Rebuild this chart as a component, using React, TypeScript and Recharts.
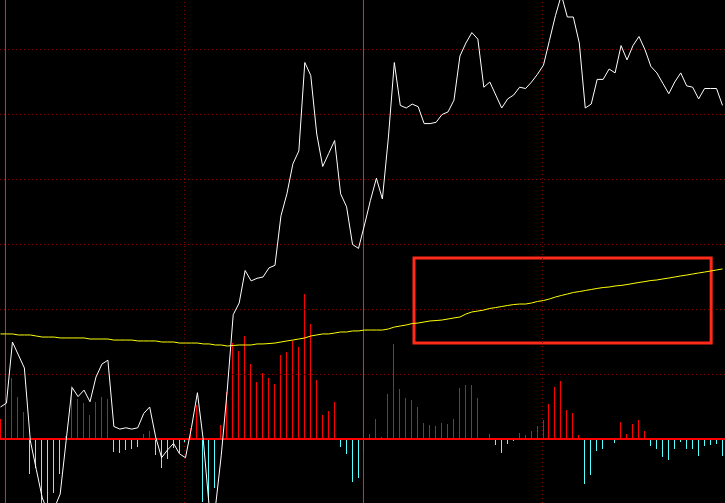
import {
    ComposedChart,
    XAxis,
    YAxis,
    Line,
    Bar,
    ReferenceLine,
    ReferenceArea,
} from "recharts";

// minute price (white line)
const price = [
    20.25, 20.28, 20.75, 20.65, 20.55, 19.99, 19.77, 19.55, 19.44, 19.47,
    19.58, 19.99, 20.4, 20.33, 20.38, 20.29, 20.48, 20.58, 20.61, 20.1,
    20.08, 20.09, 20.08, 20.09, 20.2, 20.25, 20.02, 19.86, 19.92, 19.97,
    19.89, 19.86, 20.09, 20.36, 19.99, 19.47, 19.47, 19.88, 20.38, 20.96,
    21.05, 21.3, 21.22, 21.24, 21.25, 21.32, 21.34, 21.72, 21.89, 22.12,
    22.22, 22.9, 22.8, 22.35, 22.1, 22.2, 22.3, 21.89, 21.79, 21.5,
    21.47, 21.65, 21.84, 22.01, 21.85, 22.32, 22.9, 22.57, 22.55, 22.58,
    22.56, 22.43, 22.43, 22.44, 22.5, 22.52, 22.61, 22.95, 23.05, 23.13,
    23.08, 22.71, 22.75, 22.65, 22.55, 22.62, 22.65, 22.71, 22.7, 22.75,
    22.81, 22.88, 23.07, 23.26, 23.42, 23.25, 23.25, 23.05, 22.55, 22.58,
    22.77, 22.77, 22.85, 22.82, 23.03, 22.92, 23.03, 23.1, 23.0, 22.87,
    22.82, 22.74, 22.66, 22.75, 22.82, 22.72, 22.71, 22.62, 22.7, 22.7,
    22.7, 22.57,
];

// average price (yellow line)
const avgPrice = [
    20.812, 20.812, 20.812, 20.804, 20.804, 20.804, 20.796, 20.788, 20.788, 20.788,
    20.781, 20.781, 20.781, 20.781, 20.781, 20.773, 20.773, 20.773, 20.773, 20.765,
    20.765, 20.765, 20.765, 20.758, 20.758, 20.758, 20.758, 20.75, 20.75, 20.75,
    20.742, 20.742, 20.742, 20.742, 20.735, 20.735, 20.727, 20.727, 20.719, 20.723,
    20.727, 20.727, 20.727, 20.735, 20.735, 20.738, 20.742, 20.75, 20.758, 20.765,
    20.773, 20.781, 20.796, 20.804, 20.812, 20.812, 20.819, 20.827, 20.827, 20.835,
    20.835, 20.842, 20.842, 20.842, 20.842, 20.85, 20.865, 20.873, 20.881, 20.892,
    20.896, 20.904, 20.912, 20.915, 20.919, 20.927, 20.935, 20.942, 20.965, 20.981,
    20.988, 20.996, 21.008, 21.015, 21.023, 21.031, 21.038, 21.042, 21.042, 21.05,
    21.062, 21.069, 21.081, 21.096, 21.108, 21.119, 21.131, 21.138, 21.146, 21.154,
    21.162, 21.169, 21.173, 21.181, 21.185, 21.192, 21.2, 21.208, 21.215, 21.223,
    21.227, 21.235, 21.242, 21.25, 21.258, 21.265, 21.273, 21.281, 21.288, 21.296,
    21.304, 21.312,
];

// indicator bars (red up, cyan down)
const indicator = [
    3.1, 3.1, 9.4, 6.5, 4.2, -5.4, -4.5, -10.5, -10.5, -8.3,
    -5.4, 0.5, 8.2, 6.2, 5.6, 3.7, 5.7, 6.5, 6.2, -2.0,
    -2.2, -1.7, -1.6, -1.3, 0.7, 1.3, -2.4, -4.4, -3.0, -1.4,
    -2.2, -0.6, 1.7, 5.2, -9.7, -9.4, -7.5, 2.2, 7.2, 14.8,
    13.5, 15.8, 11.5, 8.8, 10.2, 9.4, 8.5, 12.9, 13.4, 15.1,
    14.2, 22.3, 17.7, 9.1, 3.7, 4.3, 5.7, -1.2, -2.3, -6.6,
    -6.0, -2.0, 0.8, 3.1, 0.3, 6.9, 14.6, 7.7, 6.3, 6.0,
    4.9, 2.5, 2.2, 2.0, 2.5, 2.3, 3.1, 7.8, 8.3, 8.3,
    6.3, 0, 0.8, -0.9, -2.2, -0.7, -0.3, 0.9, 0.6, 1.2,
    2.0, 2.9, 5.4, 8.0, 8.9, 4.5, 4.0, 0.6, -6.9, -5.5,
    -1.8, -1.6, 0, -0.6, 2.6, 0.8, 2.3, 2.9, 1.2, -1.0,
    -1.6, -2.7, -3.2, -1.5, -0.4, -1.5, -1.5, -2.6, -1.0, -0.9,
    -0.7, -2.6,
];

const priceLevels = [20.5, 21.0, 21.5, 22.0, 22.5, 23.0];
const solidMarks = [0.83, 60.83];
const dottedMarks = [30.83, 90.83];
const highlight = { from: 69.3, to: 119.1, low: 20.742, high: 21.396 };

const data = price.map((p, i) => ({
    t: i,
    price: p,
    avg: avgPrice[i],
    ind: indicator[i],
}));

const IndBar = (props: any) => {
    const { x, y, height, payload } = props;
    if (x == null || height == null) return null;
    const top = Math.min(y, y + height);
    const h = Math.abs(height);
    return (
        <rect
            x={Math.round(x)}
            y={top}
            width={1}
            height={h}
            fill={payload.ind >= 0 ? "#ff0000" : "#55ffff"}
            shapeRendering="crispEdges"
        />
    );
};

const App = () => {
    return (
        <div
            style={{
                position: "fixed",
                left: 0,
                top: 0,
                width: 725,
                height: 503,
                background: "#000",
            }}
        >
            <ComposedChart
                width={725}
                height={503}
                data={data}
                margin={{ top: 0, right: 0, bottom: 0, left: 0 }}
            >
                <XAxis
                    dataKey="t"
                    type="number"
                    domain={[-0.0838, 121.42]}
                    allowDataOverflow
                    hide
                />
                <YAxis
                    yAxisId="price"
                    domain={[19.5115, 23.3808]}
                    allowDataOverflow
                    hide
                />
                <YAxis
                    yAxisId="ind"
                    domain={[-9.846, 67.538]}
                    allowDataOverflow
                    hide
                />
                {priceLevels.map((v) => (
                    <ReferenceLine
                        key={"h" + v}
                        yAxisId="price"
                        y={v}
                        stroke="#8c0000"
                        strokeDasharray="1 3"
                    />
                ))}
                {dottedMarks.map((v) => (
                    <ReferenceLine
                        key={"d" + v}
                        yAxisId="price"
                        x={v}
                        stroke="#8c0000"
                        strokeDasharray="1 3"
                    />
                ))}
                {solidMarks.map((v) => (
                    <ReferenceLine
                        key={"s" + v}
                        yAxisId="price"
                        x={v}
                        stroke="#ff2020"
                    />
                ))}
                <Bar
                    yAxisId="ind"
                    dataKey="ind"
                    barSize={1}
                    shape={IndBar}
                    isAnimationActive={false}
                />
                <ReferenceLine
                    yAxisId="ind"
                    y={0}
                    stroke="#ff0000"
                    strokeWidth={2}
                />
                <Line
                    yAxisId="price"
                    dataKey="avg"
                    type="linear"
                    stroke="#ffff00"
                    strokeWidth={1}
                    dot={false}
                    activeDot={false}
                    isAnimationActive={false}
                />
                <Line
                    yAxisId="price"
                    dataKey="price"
                    type="linear"
                    stroke="#ffffff"
                    strokeWidth={1}
                    dot={false}
                    activeDot={false}
                    isAnimationActive={false}
                />
                <ReferenceArea
                    yAxisId="price"
                    x1={highlight.from}
                    x2={highlight.to}
                    y1={highlight.low}
                    y2={highlight.high}
                    fill="none"
                    fillOpacity={0}
                    stroke="#ff2a1a"
                    strokeWidth={3}
                />
            </ComposedChart>
        </div>
    );
};

export default App;
